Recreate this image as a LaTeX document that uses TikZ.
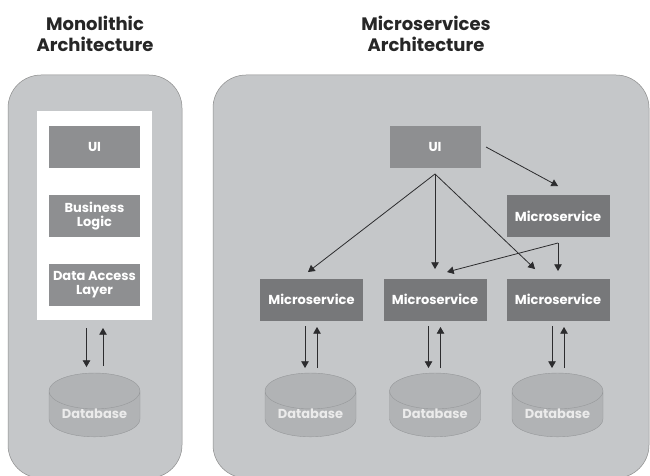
\documentclass[tikz,border=0pt]{standalone}
\usepackage{fontspec}
\setmainfont{Poppins}
\usetikzlibrary{arrows, shapes.geometric}
\definecolor{panelgray}{HTML}{C5C7C9}
\definecolor{uigray}{HTML}{8E8F91}
\definecolor{msgray}{HTML}{77787A}
\definecolor{dbgray}{HTML}{B1B3B5}
\definecolor{dbedge}{HTML}{96989A}
\definecolor{arrowgray}{HTML}{2C2C2E}
\tikzset{
	title/.style={align=center, font=\fontsize{18}{21}\selectfont\bfseries, text=black!85},
	box/.style={minimum width=91pt, minimum height=42pt, inner sep=0pt, align=center, text=white, font=\fontsize{13}{14}\selectfont\bfseries},
	uibox/.style={box, fill=uigray},
	msbox/.style={box, fill=msgray, minimum width=103pt},
	dbase/.style={cylinder, shape border rotate=90, shape aspect=0.55, draw=dbedge, fill=dbgray, minimum width=91pt, minimum height=62pt, inner sep=0pt, text=white!92!black, font=\fontsize{13}{14}\selectfont\bfseries},
	arr/.style={-triangle 60, line width=0.8pt, draw=arrowgray},
}
\begin{document}
\begin{tikzpicture}[x=1pt, y=-1pt]
	\useasboundingbox (0,0) rectangle (650,476);
	\fill [white] (0,0) rectangle (650,476);
	% panels
	\draw [rounded corners=33pt, fill=panelgray, draw=black!45, line width=0.5pt] (8,75) rectangle (182,478);
	\draw [rounded corners=33pt, fill=panelgray, draw=black!45, line width=0.5pt] (213,75) rectangle (649,478);
	\fill [white] (37,111) rectangle (152,320);
	\node [title] (montitle) at (95,34) {Monolithic\\Architecture};
	\node [title] (mictitle) at (426,34) {Microservices\\Architecture};
	% monolith
	\node [uibox] (monui) at (94.5,147) {UI};
	\node [uibox] (monlogic) at (94.5,216) {Business\\Logic};
	\node [uibox] (mondata) at (94.5,285) {Data Access\\Layer};
	\node [dbase] (mondb) at (94.5,414) {Database};
	\coordinate (mondown1) at (86.5,328);
	\coordinate (mondown2) at (86.5,367);
	\coordinate (monup1) at (103,366);
	\coordinate (monup2) at (103,328);
	\draw [arr] (mondown1) -- (mondown2);
	\draw [arr] (monup1) -- (monup2);
	% microservices
	\node [uibox] (ui) at (435,147) {UI};
	\node [msbox] (ms0) at (558,216) {Microservice};
	\node [msbox] (ms1) at (311.5,299.5) {Microservice};
	\node [msbox] (ms2) at (435,299.5) {Microservice};
	\node [msbox] (ms3) at (558,299.5) {Microservice};
	\coordinate (uifoot) at (435,174);
	\coordinate (uiside) at (486,147);
	\coordinate (ms0head) at (558,186);
	\coordinate (ms0foot) at (558,243);
	\coordinate (ms1head) at (308,272);
	\coordinate (ms2head) at (435,269);
	\coordinate (ms2side) at (447,272);
	\coordinate (ms3head) at (535,269);
	\coordinate (ms3top) at (558,271);
	\draw [arr] (uiside) -- (ms0head);
	\draw [arr] (uifoot) -- (ms1head);
	\draw [arr] (uifoot) -- (ms2head);
	\draw [arr] (uifoot) -- (ms3head);
	\draw [arr] (ms0foot) -- (ms3top);
	\draw [arr] (ms0foot) -- (ms2side);
	% databases
	\foreach \n/\dbx/\ax in {1/310.5/305, 2/435/428.5, 3/557.5/552} {
		\node [dbase] (db\n) at (\dbx,414) {Database};
		\coordinate (down\n a) at (\ax,326);
		\coordinate (down\n b) at (\ax,368);
		\coordinate (up\n a) at (\ax+12,368);
		\coordinate (up\n b) at (\ax+12,327);
		\draw [arr] (down\n a) -- (down\n b);
		\draw [arr] (up\n a) -- (up\n b);
	}
\end{tikzpicture}
\end{document}
